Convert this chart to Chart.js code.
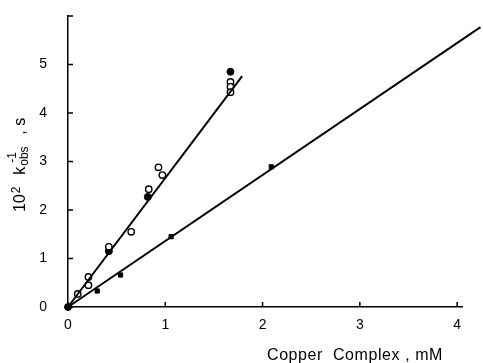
<!DOCTYPE html>
<html>
<head>
<meta charset="utf-8">
<script src="https://cdn.jsdelivr.net/npm/chart.js@4"></script>
<style>
  html, body { margin: 0; padding: 0; background: #fff; }
  #wrap { width: 483px; height: 363px; }
</style>
</head>
<body>
<div id="wrap"><canvas id="myChart"></canvas></div>
<script>
// Data
const openX = [0.10, 0.21, 0.21, 0.42, 0.65, 0.83, 0.93, 0.97, 1.67, 1.67, 1.67];
const openY = [0.27, 0.62, 0.45, 1.24, 1.55, 2.43, 2.88, 2.72, 4.64, 4.54, 4.43];

const filledX = [0.00, 0.42, 0.82, 1.67];
const filledY = [0.00, 1.15, 2.27, 4.85];

const squareX = [0.00, 0.30, 0.54, 1.06, 2.09, 4.18];
const squareY = [0.00, 0.33, 0.66, 1.45, 2.89, 5.69];

// fitted straight lines (end points)
const steepX = [0, 1.79];
const steepY = [0, 4.76];
const flatX = [0, 4.24];
const flatY = [0, 5.77];

const xTicks = [0, 1, 2, 3, 4];
const yTicks = [0, 1, 2, 3, 4, 5, 6];

const pts = (xs, ys) => xs.map((x, i) => ({ x: x, y: ys[i] }));

const FONT = 'Liberation Sans';

// small inward tick marks
const innerTicks = {
    id: 'innerTicks',
    afterDraw(chart) {
        const ctx = chart.ctx;
        const xs = chart.scales.x, ys = chart.scales.y;
        const a = chart.chartArea;
        ctx.save();
        ctx.strokeStyle = '#000';
        ctx.lineWidth = 1.5;
        ctx.beginPath();
        yTicks.forEach(v => {
            const py = ys.getPixelForValue(v);
            ctx.moveTo(a.left, py);
            ctx.lineTo(a.left + 5, py);
        });
        xTicks.forEach(v => {
            const px = xs.getPixelForValue(v);
            ctx.moveTo(px, a.bottom);
            ctx.lineTo(px, a.bottom - 5);
        });
        ctx.stroke();
        ctx.restore();
    }
};

// axis titles with sub/superscripts
const axisTitles = {
    id: 'axisTitles',
    afterDraw(chart) {
        const ctx = chart.ctx;
        ctx.save();
        ctx.fillStyle = '#000';
        ctx.textBaseline = 'alphabetic';

        // x title
        ctx.font = '16px ' + FONT;
        ctx.textAlign = 'left';
        const xt = 'Copper  Complex , mM';
        const xw = ctx.measureText(xt).width;
        ctx.letterSpacing = ((176 - xw) / xt.length) + 'px';
        ctx.fillText(xt, 267, 360);
        ctx.letterSpacing = '0px';

        // y title, rotated
        const big = '16px ' + FONT, small = '12px ' + FONT;
        ctx.font = big;
        const w10 = ctx.measureText('10').width;
        const wk = ctx.measureText('k').width;
        const ws = ctx.measureText(', s').width;
        ctx.font = small;
        const w2 = ctx.measureText('2').width;
        const wobs = ctx.measureText('obs').width;
        const sum = w10 + w2 + wk + wobs + ws;
        const gap = Math.max(1, (100 - sum) / 4);

        ctx.translate(25, 162);
        ctx.rotate(-Math.PI / 2);
        let cx = -50;
        ctx.font = big;
        ctx.fillText('10', cx, 0); cx += w10 + 1;
        ctx.font = small;
        ctx.fillText('2', cx, -5); cx += w2 + gap * 1.5;
        ctx.font = big;
        ctx.fillText('k', cx, 0); cx += wk + 1;
        ctx.font = small;
        ctx.fillText('obs', cx, 3);
        ctx.fillText('-1', cx + 3, -9);
        cx += wobs + gap * 1.5;
        ctx.font = big;
        ctx.fillText(', s', cx, 0);
        ctx.restore();
    }
};

const ctx = document.getElementById('myChart').getContext('2d');
new Chart(ctx, {
    type: 'scatter',
    data: {
        datasets: [
            { data: pts(steepX, steepY), showLine: true, borderColor: '#000', borderWidth: 2, pointRadius: 0, clip: false },
            { data: pts(flatX, flatY), showLine: true, borderColor: '#000', borderWidth: 2, pointRadius: 0, clip: false },
            { data: pts(openX, openY), pointStyle: 'circle', pointRadius: 3.2, borderWidth: 1.4,
              borderColor: '#000', backgroundColor: '#fff', clip: false },
            { data: pts(filledX, filledY), pointStyle: 'circle', pointRadius: 3.5, borderWidth: 1,
              borderColor: '#000', backgroundColor: '#000', clip: false },
            { data: pts(squareX, squareY), pointStyle: 'rect', pointRadius: 3, borderWidth: 1,
              borderColor: '#000', backgroundColor: '#000', clip: false }
        ]
    },
    options: {
        responsive: true,
        maintainAspectRatio: false,
        animation: false,
        layout: { padding: { left: 0, right: 21, top: 16, bottom: 0 } },
        plugins: { legend: { display: false }, tooltip: { enabled: false } },
        scales: {
            x: {
                min: 0, max: 4.05,
                grid: { display: false, drawTicks: false },
                border: { display: true, color: '#000', width: 1.5 },
                ticks: { color: '#000', font: { family: FONT, size: 14 }, padding: 10 },
                afterBuildTicks: s => { s.ticks = xTicks.map(v => ({ value: v })); },
                afterFit: s => { s.height = 56; s.paddingLeft = 0; s.paddingRight = 0; }
            },
            y: {
                min: 0, max: 6,
                grid: { display: false, drawTicks: false },
                border: { display: true, color: '#000', width: 1.5 },
                ticks: { color: '#000', font: { family: FONT, size: 14 }, padding: 21,
                         callback: v => (v === 6 ? '' : v) },
                afterBuildTicks: s => { s.ticks = yTicks.map(v => ({ value: v })); },
                afterFit: s => { s.width = 68; s.paddingTop = 0; s.paddingBottom = 0; }
            }
        }
    },
    plugins: [innerTicks, axisTitles]
});
</script>
</body>
</html>
